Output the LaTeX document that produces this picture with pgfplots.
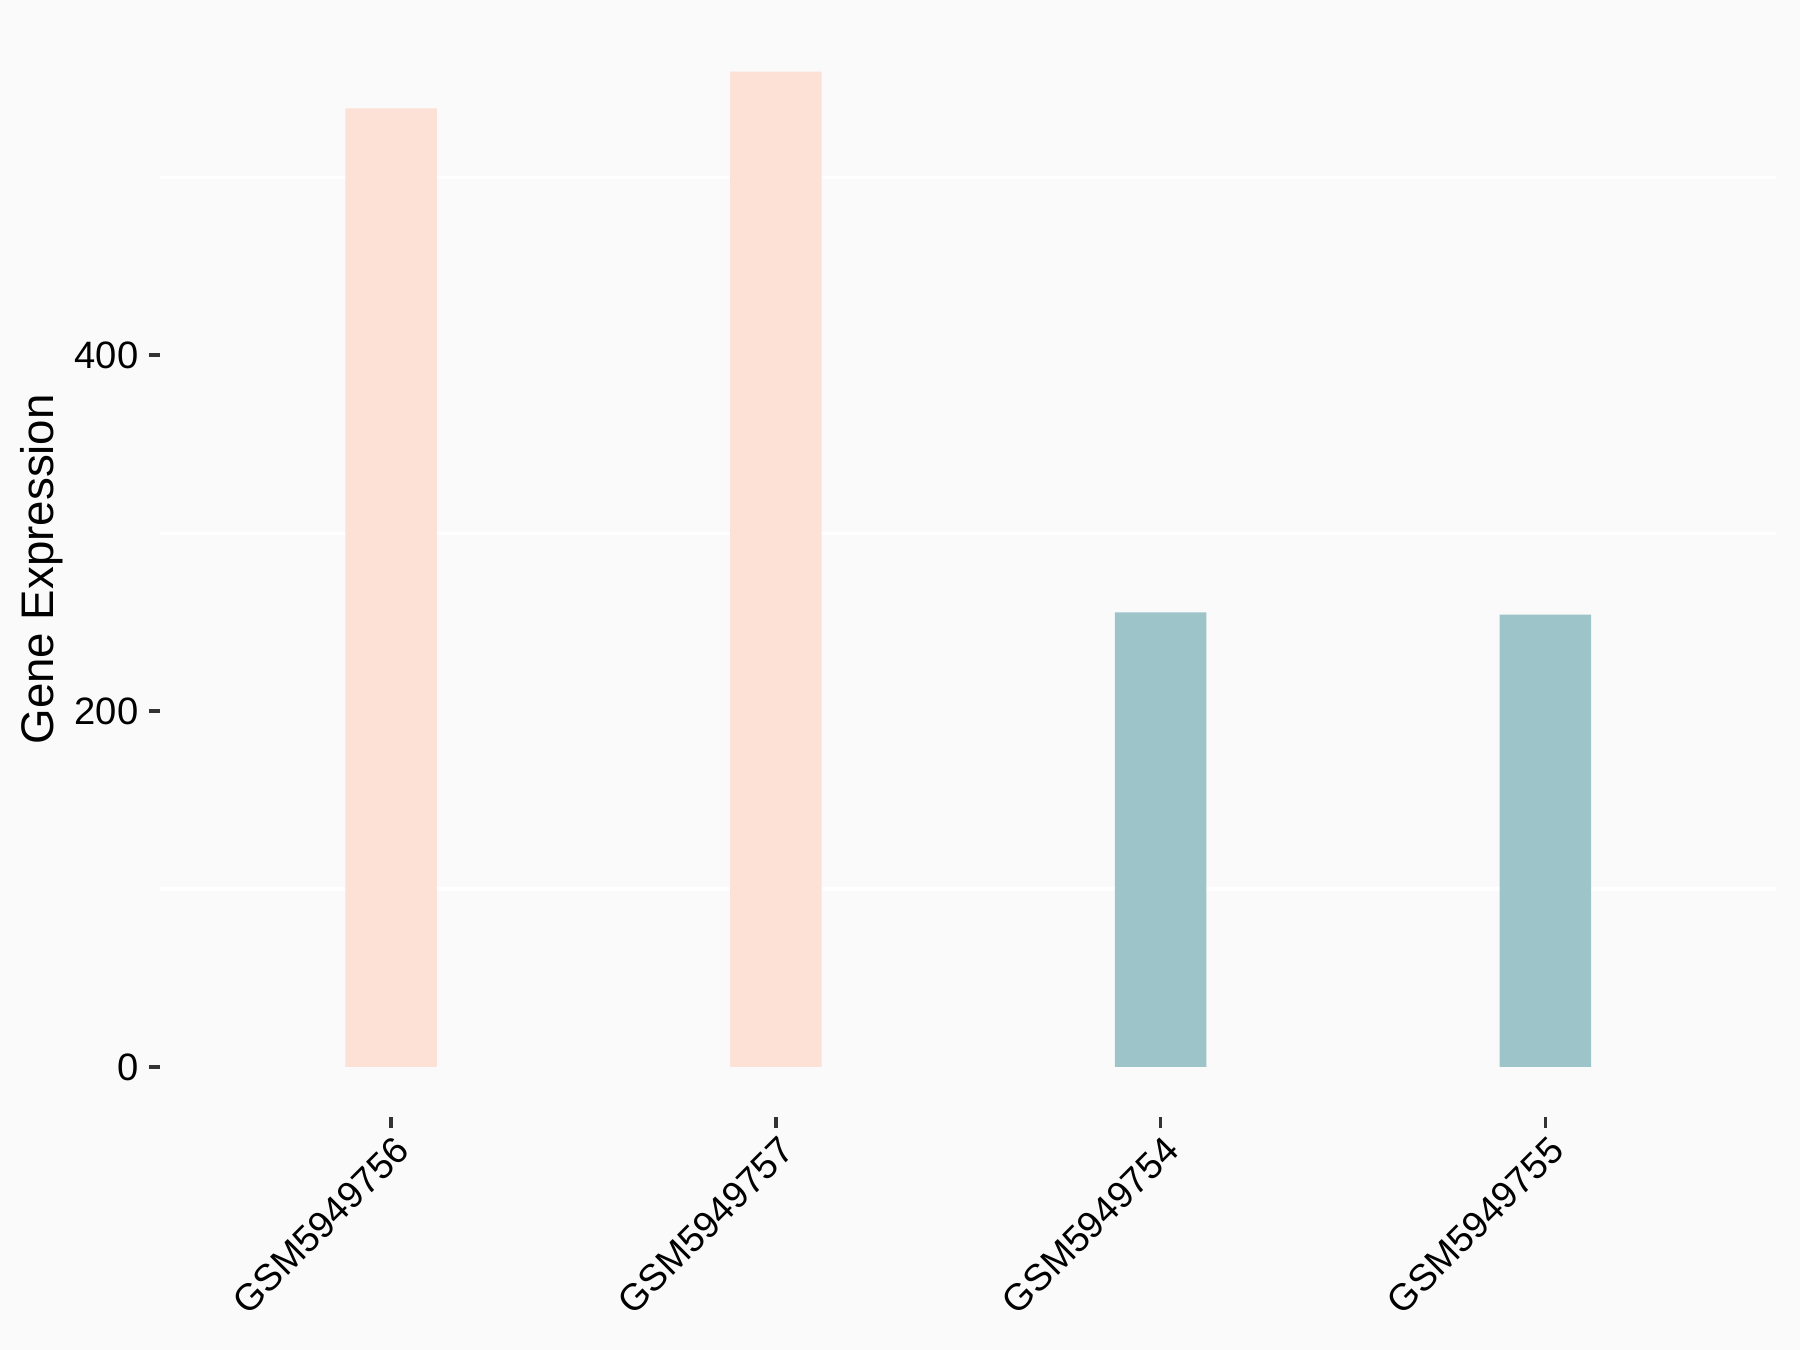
\documentclass[border=0pt]{standalone}
\usepackage{pgfplots}
\pgfplotsset{compat=1.18}
\usepackage{fontspec}
\setmainfont{Liberation Sans}

\definecolor{bgcol}{RGB}{250,250,250}
\definecolor{pinkbar}{RGB}{253,224,214}
\definecolor{tealbar}{RGB}{157,196,200}
\definecolor{tickcol}{RGB}{51,51,51}

\begin{document}
\begin{tikzpicture}
% page background (6in x 4.5in)
\fill[bgcol] (0,0) rectangle (433.62pt,325.21pt);
\begin{axis}[
    at={(38.6pt,56.2pt)}, anchor=south west,
    scale only axis, width=389.3pt, height=263.75pt,
    xmin=-0.6, xmax=3.6,
    ymin=-27.97, ymax=587.4,
    xtick={0,1,2,3},
    xticklabels={GSM5949756, GSM5949757, GSM5949754, GSM5949755},
    ytick={0,200,400},
    minor ytick={100,300,500},
    yminorgrids=true,
    minor grid style={white, line width=0.8pt},
    minor tick length=0pt,
    axis line style={draw=none},
    xtick pos=bottom, ytick pos=left,
    tick align=outside,
    major tick length=2.65pt,
    every tick/.style={tickcol, line width=0.9pt},
    /pgf/number format/assume math mode=true,
    yticklabel style={font=\fontsize{9.2}{11}\selectfont, text=black, inner sep=0pt, anchor=east, xshift=-2.4pt},
    xticklabel style={font=\fontsize{9.0}{11}\selectfont, text=black, xshift=0.45pt, yshift=-1.4pt, rotate=45, anchor=north east, inner sep=0pt},
    ylabel={Gene Expression},
    every axis y label/.style={at={(axis description cs:-0.0732,0.5)}, rotate=90, anchor=center, font=\fontsize{11}{13}\selectfont},
    axis background/.style={fill=bgcol},
]
\addplot[ybar, bar width=0.238, bar shift=0pt, fill=pinkbar, draw=none]
  coordinates {(0,538.7) (1,559.4)};
\addplot[ybar, bar width=0.238, bar shift=0pt, fill=tealbar, draw=none]
  coordinates {(2,255.5) (3,254.2)};
\end{axis}
\end{tikzpicture}
\end{document}
